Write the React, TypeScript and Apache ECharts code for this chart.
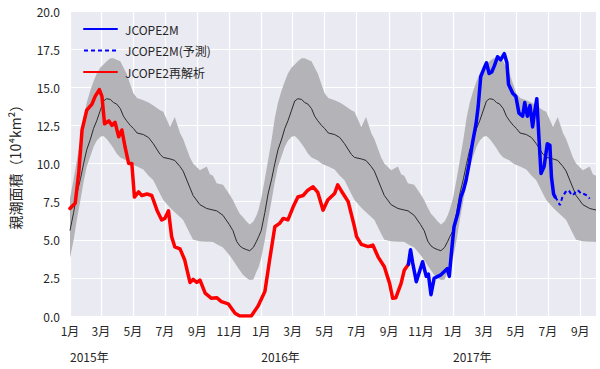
import React, { useEffect, useRef } from "react";
import * as echarts from "echarts";

const AXIS_START = "2015-01-01";
const AXIS_END = "2017-10-01";

// Climatology (mean ± spread) by day of year
const climDoy = [0, 7, 13, 20, 26, 32, 39, 45, 51, 58, 64, 70, 77, 83, 89, 96, 102, 108, 115, 121, 128, 140, 150, 159, 172, 178, 191, 200, 210, 216, 229, 235, 248, 261, 267, 273, 280, 292, 304, 311, 318, 324, 330, 337, 343, 350, 356, 360];
const climLower = [3.8, 5.0, 6.3, 7.6, 8.8, 9.8, 10.5, 11.1, 11.5, 11.75, 11.8, 11.6, 11.3, 11.0, 10.65, 10.4, 10.3, 10.2, 10.0, 9.9, 9.8, 9.6, 9.2, 8.9, 8.0, 7.6, 7.1, 6.8, 6.5, 6.3, 5.4, 5.0, 4.9, 4.87, 4.87, 4.85, 4.7, 4.5, 4.0, 3.67, 3.3, 3.0, 2.7, 2.5, 2.36, 2.4, 2.9, 3.2];
const climMean = [5.6, 6.8, 8.0, 9.0, 10.0, 10.9, 11.6, 12.3, 12.8, 13.5, 14.1, 14.25, 14.2, 14.0, 13.9, 13.6, 13.1, 12.8, 12.5, 12.3, 12.0, 11.9, 11.7, 11.3, 10.6, 10.4, 10.3, 10.2, 9.8, 9.5, 8.4, 7.9, 7.3, 7.05, 7.0, 6.95, 6.9, 6.6, 6.0, 5.6, 4.9, 4.6, 4.45, 4.35, 4.28, 4.5, 4.9, 5.2];
const climUpper = [7.7, 9.0, 10.2, 11.6, 13.0, 14.0, 14.8, 15.4, 15.9, 16.3, 16.5, 16.7, 16.9, 16.9, 16.8, 16.7, 16.3, 15.9, 15.2, 14.6, 14.3, 14.15, 14.0, 13.8, 13.5, 13.4, 12.4, 13.05, 12.0, 11.6, 10.4, 10.0, 9.56, 9.8, 9.3, 9.2, 8.7, 8.6, 8.0, 7.6, 7.1, 6.7, 6.5, 6.2, 6.0, 6.2, 6.6, 7.0];
const climYears = [2015, 2016, 2017];

// JCOPE2 reanalysis
const reanalysisDates = ["2015-01-01", "2015-01-05", "2015-01-11", "2015-01-18", "2015-01-24", "2015-02-02", "2015-02-12", "2015-02-18", "2015-02-26", "2015-03-03", "2015-03-08", "2015-03-16", "2015-03-22", "2015-03-28", "2015-04-04", "2015-04-10", "2015-04-16", "2015-04-23", "2015-04-29", "2015-05-04", "2015-05-12", "2015-05-18", "2015-05-28", "2015-06-06", "2015-06-16", "2015-06-25", "2015-07-01", "2015-07-08", "2015-07-14", "2015-07-20", "2015-07-30", "2015-08-08", "2015-08-18", "2015-08-24", "2015-08-31", "2015-09-06", "2015-09-16", "2015-09-28", "2015-10-08", "2015-10-17", "2015-10-30", "2015-11-12", "2015-11-21", "2015-12-13", "2015-12-26", "2016-01-08", "2016-01-17", "2016-01-27", "2016-02-05", "2016-02-12", "2016-02-21", "2016-03-02", "2016-03-11", "2016-03-21", "2016-03-30", "2016-04-09", "2016-04-18", "2016-04-28", "2016-05-07", "2016-05-20", "2016-05-26", "2016-06-02", "2016-06-15", "2016-06-27", "2016-07-01", "2016-07-10", "2016-07-23", "2016-08-01", "2016-08-11", "2016-08-23", "2016-09-02", "2016-09-08", "2016-09-14", "2016-09-24", "2016-09-30", "2016-10-08"];
const reanalysisValues = [7.05, 7.2, 7.4, 9.5, 12.2, 13.5, 13.9, 14.4, 14.85, 14.4, 12.6, 12.8, 12.5, 12.7, 11.75, 12.2, 11.1, 10.0, 10.0, 7.8, 8.14, 7.9, 8.0, 7.9, 6.94, 6.3, 6.4, 6.9, 5.2, 4.54, 4.4, 3.67, 2.2, 2.4, 2.2, 2.36, 1.5, 1.16, 1.2, 0.94, 0.8, 0.18, 0, 0, 0.65, 1.6, 3.67, 5.85, 6.07, 6.4, 6.3, 7.16, 7.8, 7.9, 8.25, 8.47, 8.1, 6.94, 7.6, 8.03, 8.6, 8.2, 7.5, 5.85, 5.2, 4.7, 4.55, 4.65, 3.88, 3.23, 2.14, 1.16, 1.2, 2.14, 3.0, 3.4];

// JCOPE2M
const jcopeDates = ["2016-10-08", "2016-10-12", "2016-10-16", "2016-10-23", "2016-10-29", "2016-11-04", "2016-11-11", "2016-11-15", "2016-11-20", "2016-11-26", "2016-12-03", "2016-12-09", "2016-12-15", "2016-12-21", "2016-12-25", "2016-12-30", "2017-01-03", "2017-01-10", "2017-01-16", "2017-01-21", "2017-01-26", "2017-02-01", "2017-02-07", "2017-02-14", "2017-02-18", "2017-02-23", "2017-03-02", "2017-03-06", "2017-03-11", "2017-03-16", "2017-03-21", "2017-03-27", "2017-04-02", "2017-04-09", "2017-04-14", "2017-04-17", "2017-04-25", "2017-05-01", "2017-05-07", "2017-05-14", "2017-05-18", "2017-05-23", "2017-05-28", "2017-06-02", "2017-06-05", "2017-06-10", "2017-06-14", "2017-06-18", "2017-06-24", "2017-06-30", "2017-07-05", "2017-07-08", "2017-07-12", "2017-07-15"];
const jcopeValues = [3.4, 4.35, 3.5, 2.25, 2.9, 3.56, 2.6, 2.75, 1.4, 2.47, 2.6, 2.7, 2.9, 3.1, 2.6, 4.5, 5.85, 6.7, 7.8, 8.25, 8.9, 10.0, 11.3, 12.6, 13.7, 15.7, 16.3, 16.6, 15.9, 16.0, 16.4, 17.0, 16.8, 17.2, 16.6, 15.2, 14.6, 14.4, 13.3, 13.1, 14.0, 13.1, 13.8, 12.4, 13.2, 14.25, 11.75, 9.35, 9.8, 11.3, 11.2, 9.1, 8.0, 7.8];

// JCOPE2M forecast
const forecastDates = ["2017-07-15", "2017-07-19", "2017-07-24", "2017-07-29", "2017-08-04", "2017-08-10", "2017-08-16", "2017-08-20", "2017-08-25", "2017-08-29", "2017-09-03", "2017-09-08", "2017-09-14", "2017-09-19"];
const forecastValues = [7.8, 7.6, 7.27, 7.8, 8.14, 8.25, 7.9, 8.0, 8.25, 8.2, 8.0, 8.0, 7.9, 7.7];

const yTicks = { min: 0, max: 20, interval: 2.5 };

const DAY = 86400000;
const fmt = (t: number) => new Date(t).toISOString().slice(0, 10);
const parse = (s: string) => Date.parse(s + "T00:00:00Z");

const FONT = "'Noto Sans CJK JP', 'Noto Sans', sans-serif";
const TXT = "#262626";

export default function App() {
  const ref = useRef<HTMLDivElement>(null);
  useEffect(() => {
    if (!ref.current) return;
    const chart = echarts.init(ref.current, undefined, { renderer: "svg" });

    const categories: string[] = [];
    for (let t = parse(AXIS_START); t <= parse(AXIS_END); t += DAY) categories.push(fmt(t));
    const endT = parse(AXIS_END);

    const lowerData: [string, number][] = [];
    const widthData: [string, number][] = [];
    const meanData: [string, number][] = [];
    climYears.forEach((y) => {
      const base = Date.UTC(y, 0, 1);
      climDoy.forEach((d, i) => {
        const t = base + d * DAY;
        if (t > endT) return;
        const k = fmt(t);
        lowerData.push([k, climLower[i]]);
        widthData.push([k, +(climUpper[i] - climLower[i]).toFixed(3)]);
        meanData.push([k, climMean[i]]);
      });
    });
    const zip = (a: string[], b: number[]) => a.map((d, i) => [d, b[i]]);

    const monthTick = (_i: number, v: string) => v.slice(8) === "01" && parseInt(v.slice(5, 7), 10) % 2 === 1;
    const yearTick = (_i: number, v: string) => v.slice(5) === "01-01";

    chart.setOption({
      animation: false,
      backgroundColor: "#ffffff",
      textStyle: { fontFamily: FONT },
      grid: { left: 68, right: 4, top: 11, bottom: 53, show: true, backgroundColor: "#EAEAF2", borderWidth: 0 },
      legend: {
        data: ["JCOPE2M", "JCOPE2M(予測)", "JCOPE2再解析"],
        orient: "vertical",
        left: 78,
        top: 18,
        itemWidth: 33,
        itemHeight: 14,
        itemGap: 9.5,
        itemStyle: { opacity: 0 },
        textStyle: { fontSize: 12, color: TXT, fontFamily: FONT, padding: [0, 0, 0, 3] },
      },
      xAxis: [
        {
          type: "category",
          data: categories,
          boundaryGap: false,
          axisLine: { show: false },
          axisTick: { show: false },
          axisLabel: {
            interval: monthTick,
            formatter: (v: string) => parseInt(v.slice(5, 7), 10) + "月",
            fontSize: 12,
            color: TXT,
            margin: 8,
          },
          splitLine: { show: true, interval: monthTick, lineStyle: { color: "#ffffff", width: 1.2 } },
        },
        {
          type: "category",
          data: categories,
          boundaryGap: false,
          position: "bottom",
          offset: 26,
          axisLine: { show: false },
          axisTick: { show: false },
          splitLine: { show: false },
          axisLabel: {
            interval: yearTick,
            formatter: (v: string) => v.slice(0, 4) + "年",
            align: "left",
            fontSize: 12,
            color: TXT,
            margin: 8,
          },
        },
      ],
      yAxis: {
        type: "value",
        min: yTicks.min,
        max: yTicks.max,
        interval: yTicks.interval,
        axisLine: { show: false },
        axisTick: { show: false },
        axisLabel: { formatter: (v: number) => v.toFixed(1), fontSize: 12, color: TXT, margin: 10 },
        splitLine: { show: true, lineStyle: { color: "#ffffff", width: 1.2 } },
        name: "親潮面積（10⁴km²）",
        nameLocation: "middle",
        nameRotate: 90,
        nameGap: 48,
        nameTextStyle: { fontSize: 14, color: TXT, fontFamily: FONT },
      },
      series: [
        {
          name: "band-lower",
          type: "line",
          stack: "band",
          data: lowerData,
          symbol: "none",
          silent: true,
          lineStyle: { opacity: 0 },
        },
        {
          name: "band",
          type: "line",
          stack: "band",
          data: widthData,
          symbol: "none",
          silent: true,
          lineStyle: { opacity: 0 },
          areaStyle: { color: "#b4b4b8", opacity: 1 },
        },
        {
          name: "mean",
          type: "line",
          data: meanData,
          symbol: "none",
          silent: true,
          lineStyle: { color: "#2a2a2a", width: 1 },
        },
        {
          name: "JCOPE2再解析",
          type: "line",
          data: zip(reanalysisDates, reanalysisValues),
          symbol: "none",
          color: "#ff0000",
          lineStyle: { color: "#ff0000", width: 3.5, join: "round", cap: "round" },
        },
        {
          name: "JCOPE2M",
          type: "line",
          data: zip(jcopeDates, jcopeValues),
          symbol: "none",
          color: "#0000ff",
          lineStyle: { color: "#0000ff", width: 3.5, join: "round", cap: "round" },
        },
        {
          name: "JCOPE2M(予測)",
          type: "line",
          data: zip(forecastDates, forecastValues),
          symbol: "none",
          color: "#0000ff",
          lineStyle: { color: "#0000ff", width: 2, type: [4, 3] },
        },
      ],
    });
    return () => chart.dispose();
  }, []);
  return <div ref={ref} style={{ width: 600, height: 369, position: "absolute", left: 0, top: 0 }} />;
}
